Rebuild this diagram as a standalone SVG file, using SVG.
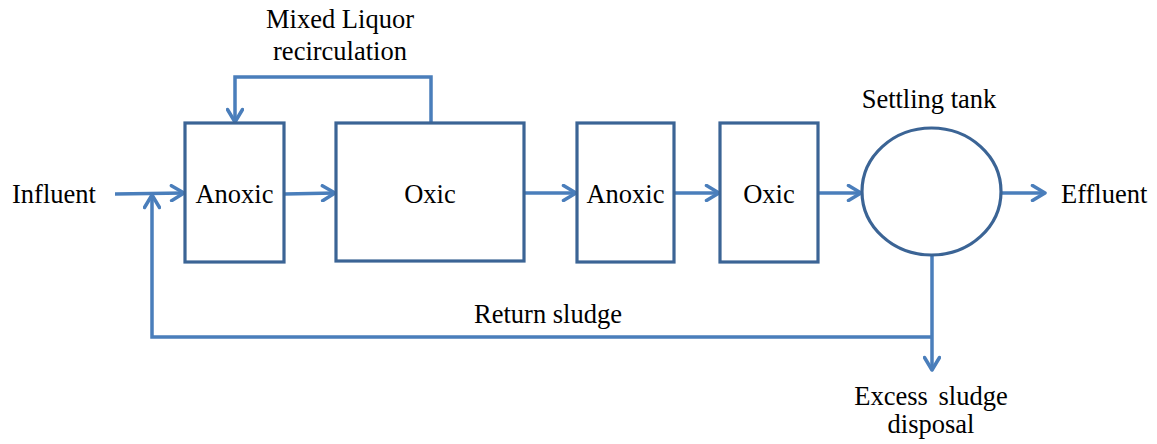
<svg xmlns="http://www.w3.org/2000/svg" width="1157" height="444" viewBox="0 0 1157 444">
  <style>
    .tank { fill: #ffffff; stroke: #3b6495; stroke-width: 3.2; }
    .flow { fill: none; stroke: #4a7ebb; stroke-width: 3.5; stroke-linejoin: miter; }
    .label { font-family: "Liberation Serif", "Times New Roman", serif; font-size: 26.5px; fill: #000000; }
  </style>
  <defs>
    <marker id="arrow" viewBox="0 0 18 18" refX="15.5" refY="9" markerWidth="18" markerHeight="18" markerUnits="userSpaceOnUse" orient="auto">
      <path d="M3,1.5 L15.5,9 L3,16.5" fill="none" stroke="#4a7ebb" stroke-width="3.5" stroke-linecap="round" stroke-linejoin="round"/>
    </marker>
  </defs>
  <rect width="1157" height="444" fill="#ffffff"/>

  <!-- process flow lines -->
  <g id="connectors">
    <path class="flow" d="M115,194 L184,193" marker-end="url(#arrow)"/>
    <path class="flow" d="M285,194 L335,193" marker-end="url(#arrow)"/>
    <path class="flow" d="M525,193 L576,193" marker-end="url(#arrow)"/>
    <path class="flow" d="M675,193 L719,193" marker-end="url(#arrow)"/>
    <path class="flow" d="M819,193 L861,193" marker-end="url(#arrow)"/>
    <path class="flow" d="M1001,193 L1045,193" marker-end="url(#arrow)"/>
    <!-- mixed liquor recirculation -->
    <path class="flow" d="M431,123 L431,77 L235,77 L235,122" marker-end="url(#arrow)"/>
    <!-- sludge line from settling tank -->
    <path class="flow" d="M932,255 L932,370" marker-end="url(#arrow)"/>
    <!-- return sludge -->
    <path class="flow" d="M932,337 L152,337 L152,195" marker-end="url(#arrow)"/>
  </g>

  <g id="anoxic-1">
    <rect class="tank" x="185" y="123" width="99" height="139"/>
    <text class="label" x="234.5" y="203" text-anchor="middle">Anoxic</text>
  </g>
  <g id="oxic-1">
    <rect class="tank" x="336" y="123" width="188" height="138"/>
    <text class="label" x="430" y="203" text-anchor="middle">Oxic</text>
  </g>
  <g id="anoxic-2">
    <rect class="tank" x="577" y="123" width="97" height="139"/>
    <text class="label" x="625.5" y="203" text-anchor="middle">Anoxic</text>
  </g>
  <g id="oxic-2">
    <rect class="tank" x="720" y="123" width="98" height="139"/>
    <text class="label" x="769" y="203" text-anchor="middle">Oxic</text>
  </g>
  <g id="settling-tank">
    <ellipse class="tank" cx="931.5" cy="191.5" rx="69.5" ry="63.5"/>
    <text class="label" x="929" y="108" text-anchor="middle">Settling tank</text>
  </g>

  <g id="influent">
    <text class="label" x="12" y="203">Influent</text>
  </g>
  <g id="effluent">
    <text class="label" x="1061" y="203">Effluent</text>
  </g>
  <g id="recirculation-label">
    <text class="label" x="340" y="28" text-anchor="middle">Mixed Liquor</text>
    <text class="label" x="340" y="60" text-anchor="middle">recirculation</text>
  </g>
  <g id="return-label">
    <text class="label" x="548" y="323" text-anchor="middle">Return sludge</text>
  </g>
  <g id="excess-sludge">
    <text class="label" x="931" y="405" text-anchor="middle" word-spacing="4">Excess sludge</text>
    <text class="label" x="931" y="433" text-anchor="middle">disposal</text>
  </g>
</svg>
